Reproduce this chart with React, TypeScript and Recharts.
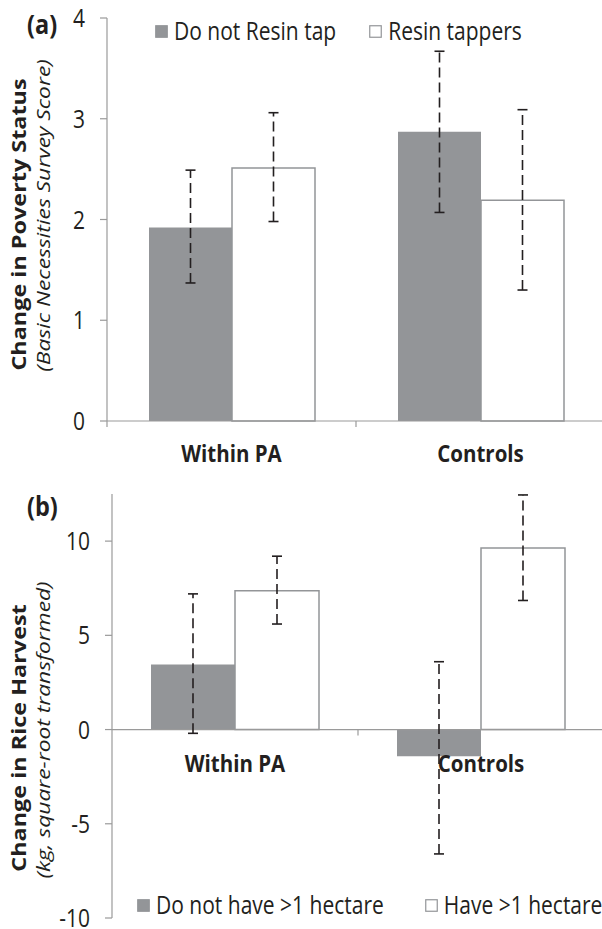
import React from 'react';
import { BarChart, Bar, XAxis, YAxis, ErrorBar, Legend, ReferenceLine, ReferenceDot } from 'recharts';

// ---------- data ----------
const categories = ['Within PA', 'Controls'];

// Panel (a): change in poverty status
const seriesANames = ['Do not Resin tap', 'Resin tappers'];
const noTapValues = [1.92, 2.87];
const noTapLow = [1.37, 2.07];
const noTapHigh = [2.49, 3.67];
const tapValues = [2.51, 2.19];
const tapLow = [1.98, 1.3];
const tapHigh = [3.06, 3.09];
const ticksA = [0, 1, 2, 3, 4];

// Panel (b): change in rice harvest
const seriesBNames = ['Do not have >1 hectare', 'Have >1 hectare'];
const smallLandValues = [3.45, -1.42];
const smallLandLow = [-0.2, -6.6];
const smallLandHigh = [7.2, 3.6];
const bigLandValues = [7.37, 9.63];
const bigLandLow = [5.6, 6.85];
const bigLandHigh = [9.2, 12.45];
const ticksB = [-10, -5, 0, 5, 10];

const dataA = categories.map((name, i) => ({
  name,
  noTap: noTapValues[i],
  noTapErr: [noTapValues[i] - noTapLow[i], noTapHigh[i] - noTapValues[i]],
  tap: tapValues[i],
  tapErr: [tapValues[i] - tapLow[i], tapHigh[i] - tapValues[i]],
}));

const dataB = categories.map((name, i) => ({
  name,
  small: smallLandValues[i],
  smallErr: [smallLandValues[i] - smallLandLow[i], smallLandHigh[i] - smallLandValues[i]],
  big: bigLandValues[i],
  bigErr: [bigLandValues[i] - bigLandLow[i], bigLandHigh[i] - bigLandValues[i]],
}));

// ---------- style ----------
const FONT = "'Open Sans', sans-serif";
const TEXT = '#231f20';
const GRAY = '#939598';
const AXIS = '#9a9a9a';
const SY = 1.17; // vertical stretch of the reference glyphs

const SText = (props: any) => {
  const { x, y, anchor = 'middle', children, ...rest } = props;
  return (
    <g transform={`translate(${x},${y}) scale(1,${SY})`}>
      <text x={0} y={0} textAnchor={anchor} dominantBaseline="central" fontFamily={FONT} fill={TEXT} {...rest}>
        {children}
      </text>
    </g>
  );
};

const VText = (props: any) => {
  const { x, y, stretch = SY, children, ...rest } = props;
  return (
    <g transform={`translate(${x},${y}) rotate(-90) scale(${stretch},1)`}>
      <text x={0} y={0} textAnchor="middle" dominantBaseline="central" fontFamily={FONT} fill={TEXT} {...rest}>
        {children}
      </text>
    </g>
  );
};

const LegendContent = (props: any) => {
  const { payload, gap } = props;
  return (
    <div style={{ display: 'flex', alignItems: 'center', fontFamily: FONT, fontSize: 21, color: TEXT, lineHeight: '26px', whiteSpace: 'nowrap' }}>
      {(payload || []).map((p: any, i: number) => (
        <div key={i} style={{ display: 'flex', alignItems: 'center', marginRight: i === 0 ? gap : 0 }}>
          <svg width={13} height={13} style={{ display: 'block' }}>
            <rect x={0.75} y={0.75} width={11.5} height={11.5} fill={p.color} stroke={GRAY} strokeWidth={1.2} />
          </svg>
          <span style={{ marginLeft: 6, display: 'inline-block', transform: `scaleY(${SY})` }}>{p.value}</span>
        </div>
      ))}
    </div>
  );
};

const AxisTitle = (props: any) => {
  const { viewBox, bold, italic, boldShift, italicShift } = props;
  const cy = viewBox.y + viewBox.height / 2;
  return (
    <g>
      <VText x={18} y={cy + boldShift} fontWeight="bold" fontSize={20}>
        {bold}
      </VText>
      <VText x={43} y={cy + italicShift} fontStyle="italic" fontSize={18.2} stretch={1.25}>
        {italic}
      </VText>
    </g>
  );
};

const YTick = (props: any) => {
  const { x, y, payload } = props;
  return (
    <SText x={x} y={y} anchor="end" fontSize={21}>
      {payload.value}
    </SText>
  );
};

const CHART_A_W = 605;
const Y_AXIS_A_W = 107;
const BAND_A = (CHART_A_W - Y_AXIS_A_W) / categories.length;
const CHART_B_W = 604;
const Y_AXIS_B_W = 112;
const BAND_B = (CHART_B_W - Y_AXIS_B_W) / categories.length;

const CategoryTick = (props: any) => {
  const { x, y, payload, index } = props;
  const half = BAND_A / 2;
  return (
    <g>
      <line x1={x - half} x2={x - half} y1={y} y2={y + 6} stroke={AXIS} strokeWidth={1.2} />
      {index === categories.length - 1 && (
        <line x1={x + half} x2={x + half} y1={y} y2={y + 6} stroke={AXIS} strokeWidth={1.2} />
      )}
      <SText x={x} y={y + 32} fontWeight="bold" fontSize={20.5}>
        {payload.value}
      </SText>
    </g>
  );
};

const CategoryLabelB = (props: any) => {
  const { viewBox, value, first } = props;
  const cx = viewBox.x + viewBox.width / 2;
  const cy = viewBox.y + viewBox.height / 2;
  return (
    <g>
      {first && <line x1={cx + BAND_B / 2} x2={cx + BAND_B / 2} y1={cy} y2={cy + 6} stroke={AXIS} strokeWidth={1.2} />}
      <SText x={cx} y={cy + 33} fontWeight="bold" fontSize={20.5}>
        {value}
      </SText>
    </g>
  );
};

const errStyle = { stroke: TEXT, strokeWidth: 1.6, strokeDasharray: '10 5' };

const panelLabel = (top: number): React.CSSProperties => ({
  position: 'absolute',
  left: 27,
  top,
  fontSize: 23.5,
  fontWeight: 'bold',
  lineHeight: '30px',
  transform: `scaleY(${SY})`,
});

export default function App() {
  return (
    <div style={{ position: 'absolute', left: 0, top: 0, width: 602, height: 929, overflow: 'hidden', background: '#fff', fontFamily: FONT, color: TEXT }}>
      <div style={panelLabel(8)}>(a)</div>
      <div style={panelLabel(490)}>(b)</div>

      <div style={{ position: 'absolute', left: 0, top: 0 }}>
        <BarChart width={CHART_A_W} height={470} data={dataA} margin={{ top: 18, right: 0, bottom: 0, left: 0 }} barSize={83} barGap={0}>
          <XAxis dataKey="name" height={49} axisLine={{ stroke: AXIS, strokeWidth: 1.2 }} tickLine={false} tickSize={0} tickMargin={0} tick={<CategoryTick />} interval={0} />
          <YAxis
            width={Y_AXIS_A_W}
            domain={[0, 4]}
            ticks={ticksA}
            interval={0}
            axisLine={{ stroke: AXIS, strokeWidth: 1.2 }}
            tickLine={{ stroke: AXIS, strokeWidth: 1.2 }}
            tickSize={7}
            tickMargin={15}
            tick={<YTick />}
            label={<AxisTitle bold="Change in Poverty Status" italic="(Basic Necessities Survey Score)" boldShift={5} italicShift={-4} />}
          />
          <Legend
            layout="horizontal"
            verticalAlign="middle"
            align="center"
            content={<LegendContent gap={33} />}
            wrapperStyle={{ top: 18, left: 155, width: 'auto', height: 'auto' }}
          />
          <Bar dataKey="noTap" name={seriesANames[0]} fill={GRAY} isAnimationActive={false}>
            <ErrorBar dataKey="noTapErr" width={5} direction="y" isAnimationActive={false} {...errStyle} />
          </Bar>
          <Bar dataKey="tap" name={seriesANames[1]} fill="#ffffff" stroke={GRAY} strokeWidth={1.5} isAnimationActive={false}>
            <ErrorBar dataKey="tapErr" width={5} direction="y" isAnimationActive={false} {...errStyle} />
          </Bar>
        </BarChart>
      </div>

      <div style={{ position: 'absolute', left: 0, top: 480 }}>
        <BarChart width={CHART_B_W} height={449} data={dataB} margin={{ top: 14, right: 0, bottom: 11, left: 0 }} barSize={84} barGap={0}>
          <XAxis dataKey="name" hide />
          <YAxis
            width={Y_AXIS_B_W}
            domain={[-10, 12.5]}
            ticks={ticksB}
            interval={0}
            allowDataOverflow
            axisLine={{ stroke: AXIS, strokeWidth: 1.2 }}
            tickLine={{ stroke: AXIS, strokeWidth: 1.2 }}
            tickSize={7}
            tickMargin={15}
            tick={<YTick />}
            label={<AxisTitle bold="Change in Rice Harvest" italic="(kg, square-root transformed)" boldShift={32} italicShift={24} />}
          />
          <Legend
            layout="horizontal"
            verticalAlign="middle"
            align="center"
            content={<LegendContent gap={41} />}
            wrapperStyle={{ top: 412, left: 137, width: 'auto', height: 'auto' }}
          />
          <ReferenceLine y={0} stroke={AXIS} strokeWidth={1.2} />
          <Bar dataKey="small" name={seriesBNames[0]} fill={GRAY} isAnimationActive={false}>
            <ErrorBar dataKey="smallErr" width={5} direction="y" isAnimationActive={false} {...errStyle} />
          </Bar>
          <Bar dataKey="big" name={seriesBNames[1]} fill="#ffffff" stroke={GRAY} strokeWidth={1.5} isAnimationActive={false}>
            <ErrorBar dataKey="bigErr" width={5} direction="y" isAnimationActive={false} {...errStyle} />
          </Bar>
          {categories.map((c, i) => (
            <ReferenceDot
              key={c}
              x={c}
              y={0}
              r={0}
              fill="none"
              stroke="none"
              label={<CategoryLabelB value={c} first={i === 0} />}
            />
          ))}
        </BarChart>
      </div>
    </div>
  );
}
